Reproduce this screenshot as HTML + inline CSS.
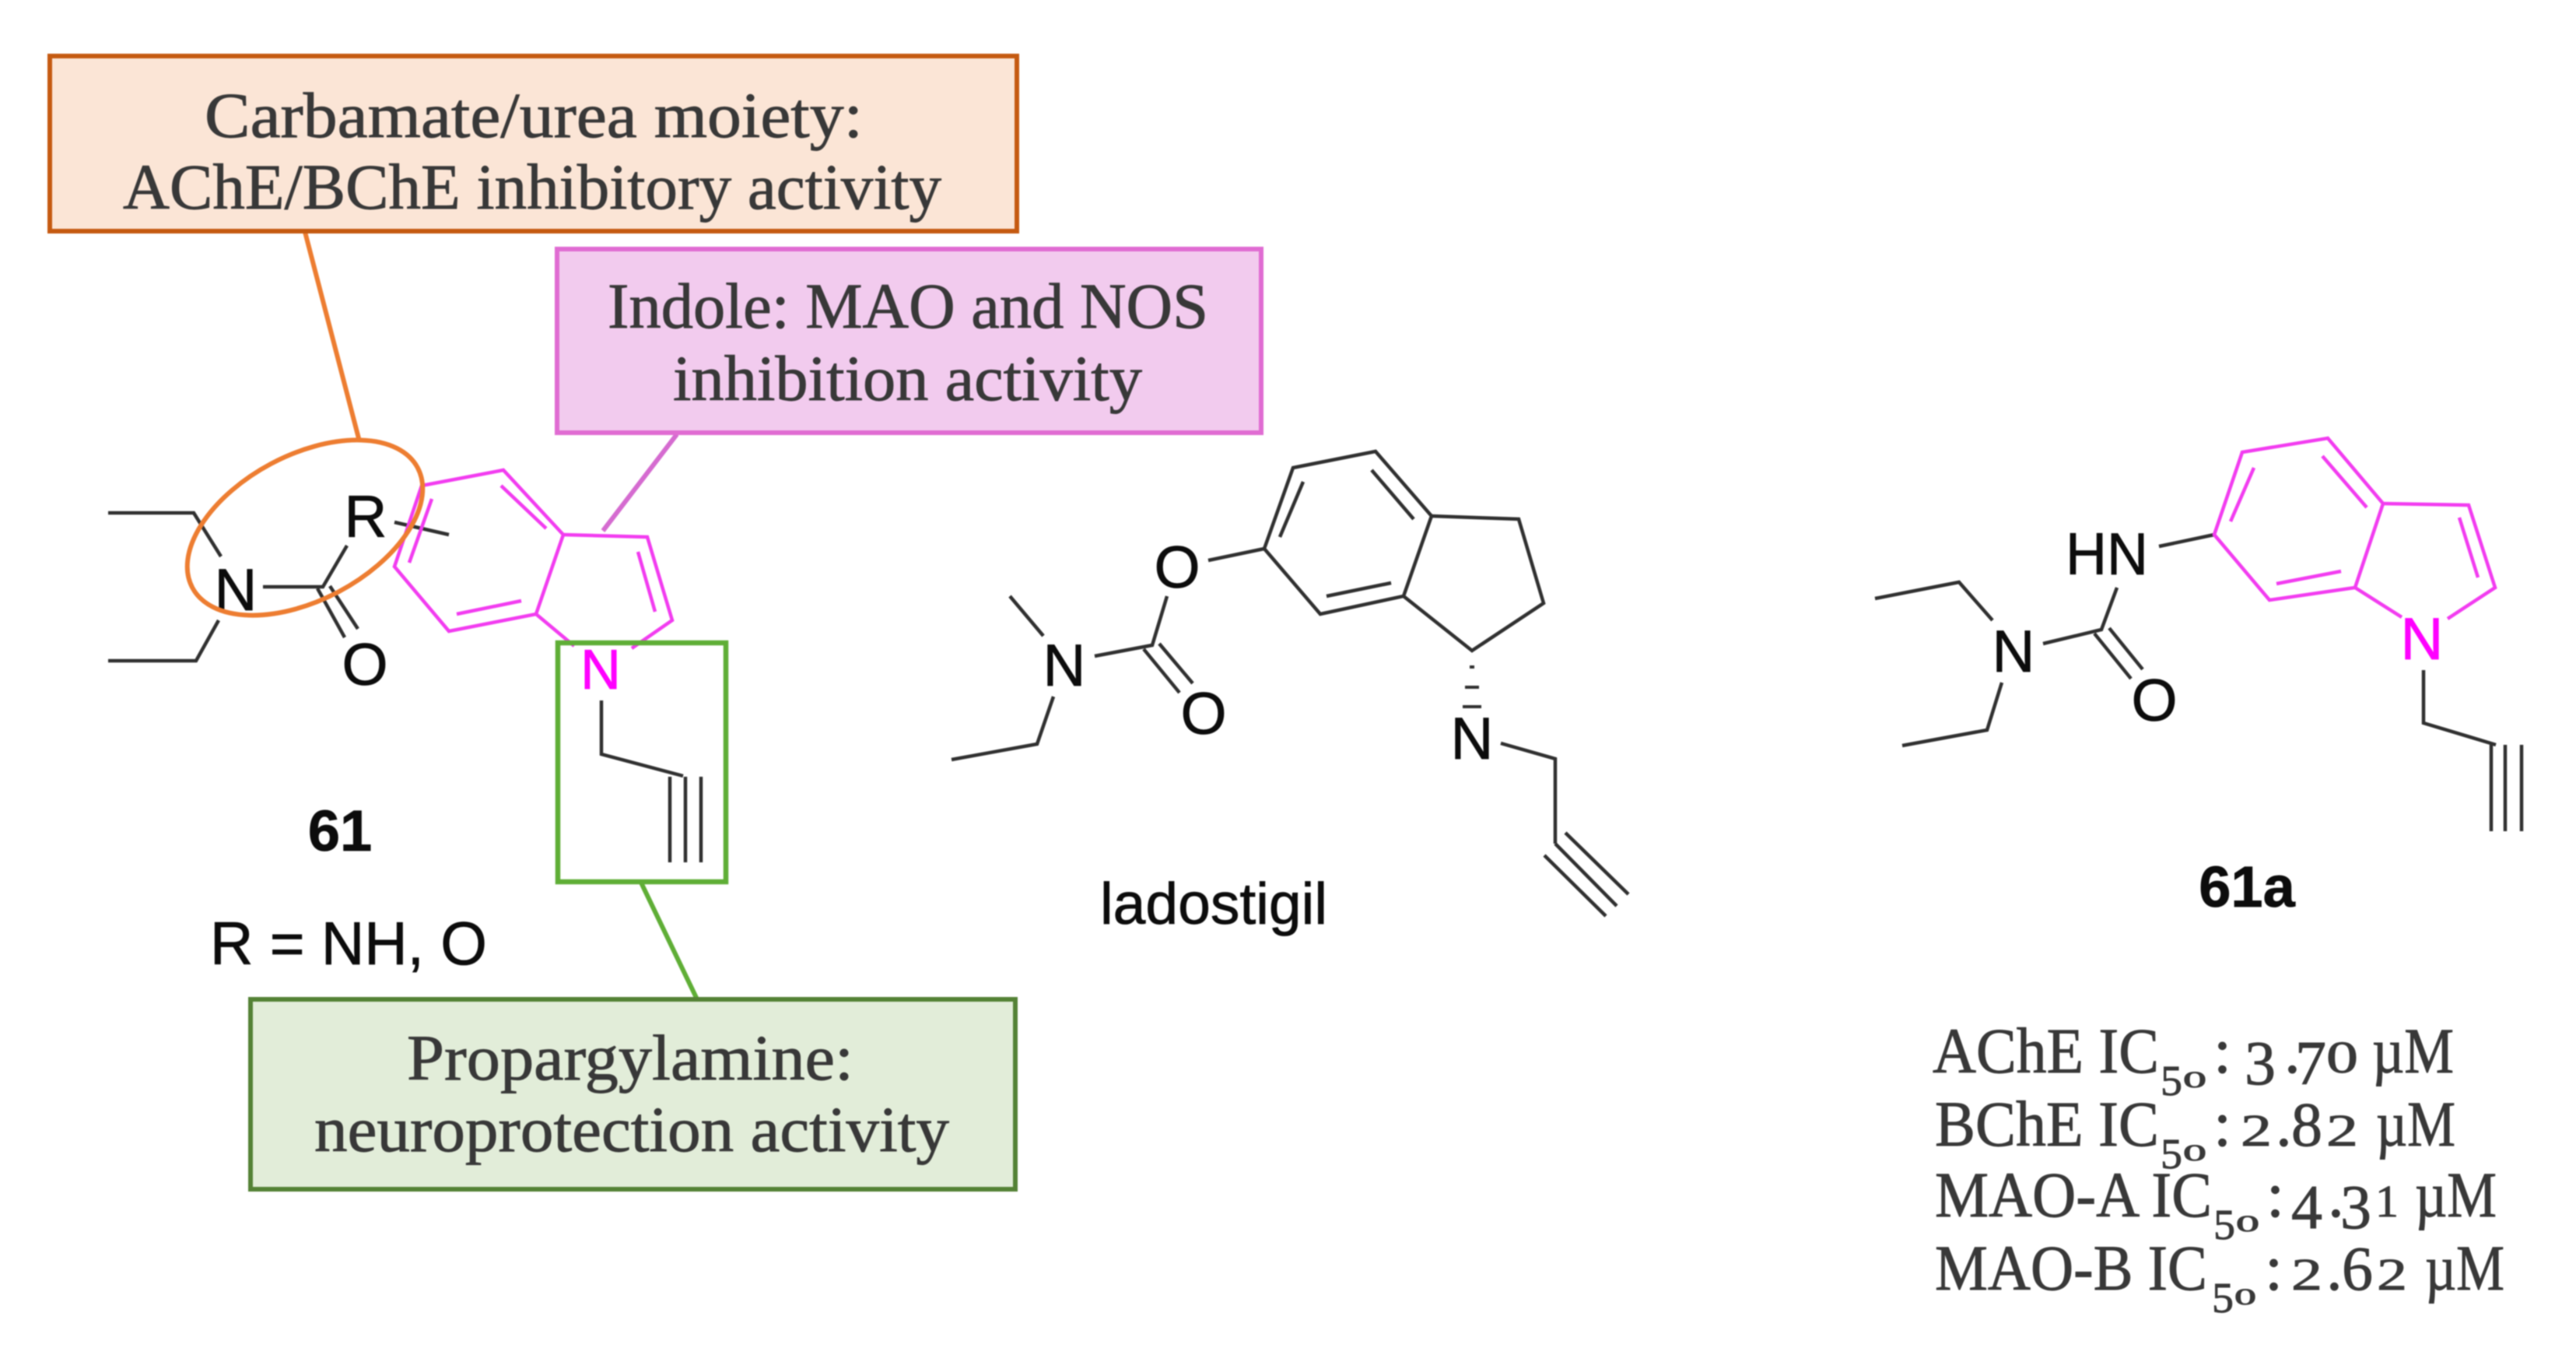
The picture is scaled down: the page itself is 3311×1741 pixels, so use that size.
<!DOCTYPE html>
<html><head><meta charset="utf-8"><style>
html,body{margin:0;padding:0;background:#fff;width:3311px;height:1741px;overflow:hidden}
svg{display:block;filter:blur(0.9px)}
.s{font-family:"Liberation Serif",serif;fill:#383838;stroke:#383838;stroke-width:0.9px;font-size:83px}
.a{font-family:"Liberation Sans",sans-serif;fill:#0c0c0c;stroke:#0c0c0c;stroke-width:0.8px;font-size:76px;text-anchor:middle}
.b{stroke:#303030;stroke-width:4.5;fill:none;stroke-linejoin:miter}
.m{stroke:#F23CF0;stroke-width:4.5;fill:none}
</style></head><body>
<svg width="3311" height="1741" viewBox="0 0 3311 1741" xmlns="http://www.w3.org/2000/svg">
<rect width="3311" height="1741" fill="#fff"/>

<!-- connectors -->
<path d="M392 298L462 567" stroke="#ED7D31" stroke-width="6" fill="none"/>
<path d="M870 558L775 682" stroke="#D56BD0" stroke-width="6" fill="none"/>
<path d="M824 1134L896 1284" stroke="#5FAE36" stroke-width="6" fill="none"/>

<!-- boxes -->
<rect x="64" y="72" width="1243" height="225" fill="#FBE5D6" stroke="#C55A11" stroke-width="6"/>
<rect x="716" y="320" width="905" height="236" fill="#F2CBEE" stroke="#E06CD2" stroke-width="6"/>
<rect x="322" y="1284" width="983" height="244" fill="#E2EDD9" stroke="#548235" stroke-width="6"/>

<!-- box text -->
<text class="s" x="263" y="176" textLength="846" lengthAdjust="spacingAndGlyphs">Carbamate/urea moiety:</text>
<text class="s" x="158" y="268" textLength="1052" lengthAdjust="spacingAndGlyphs">AChE/BChE inhibitory activity</text>
<text class="s" x="781" y="421" textLength="772" lengthAdjust="spacingAndGlyphs">Indole: MAO and NOS</text>
<text class="s" x="865" y="514" textLength="603" lengthAdjust="spacingAndGlyphs">inhibition activity</text>
<text class="s" x="523" y="1387" textLength="574" lengthAdjust="spacingAndGlyphs">Propargylamine:</text>
<text class="s" x="404" y="1479" textLength="816" lengthAdjust="spacingAndGlyphs">neuroprotection activity</text>

<!-- compound 61 -->
<g class="b">
<path d="M139 659H249L284 715"/>
<path d="M139 849H252L281 797"/>
<path d="M338 754H415L446 701"/>
<path d="M408 756L443 819M424 753L460 808"/>
<path d="M507 671L577 687"/>
<path d="M773 900V969L878 997"/>
<path d="M861 998V1108M881 998V1108M901 998V1108"/>
</g>
<g class="m">
<path d="M738 830L689 789L577 811L507 728L542 624L647 604L724 687L689 789"/>
<path d="M724 687L832 690L864 797L812 833"/>
<path d="M644 624L702 679M555 641L526 723M587 789L670 772M820 709L842 786"/>
</g>
<text class="a" x="303" y="784">N</text>
<text class="a" x="470" y="690">R</text>
<text class="a" x="469" y="880">O</text>
<text class="a" x="772" y="885" style="fill:#FF00FF;stroke:#FF00FF;font-size:72px">N</text>
<ellipse cx="392" cy="678" rx="164" ry="93" transform="rotate(-28 392 678)" fill="none" stroke="#ED7D31" stroke-width="6"/>
<rect x="717" y="826" width="216" height="307" fill="none" stroke="#5FAE36" stroke-width="6.5"/>
<text class="a" x="437" y="1093" style="font-weight:bold;font-size:74px">61</text>
<text class="a" x="448" y="1239" style="font-size:78px" textLength="356" lengthAdjust="spacingAndGlyphs">R = NH, O</text>

<!-- ladostigil -->
<g class="b">
<path d="M1625 705L1662 601L1768 580L1840 663L1804 766L1697 789Z"/>
<path d="M1675 619L1645 690M1763 604L1817 667M1705 766L1788 749"/>
<path d="M1840 663L1952 667L1984 775L1892 836L1804 766"/>
<path d="M1553 720L1625 705"/>
<path d="M1500 766L1481 829L1407 843"/>
<path d="M1298 766L1341 817"/>
<path d="M1354 895L1333 956L1223 976"/>
<path d="M1470 834L1516 890M1490 827L1533 878"/>
<path d="M1889 857H1895M1883 883H1901M1880 908H1904" stroke-width="4"/>
<path d="M1929 955L1999 975V1084"/>
<path d="M1999 1084L2078 1164M2012 1070L2093 1149M1985 1099L2064 1177"/>
</g>
<text class="a" x="1513" y="755">O</text>
<text class="a" x="1368" y="881">N</text>
<text class="a" x="1547" y="943">O</text>
<text class="a" x="1892" y="975">N</text>
<text class="a" x="1560" y="1187" style="font-size:75px" textLength="292" lengthAdjust="spacingAndGlyphs">ladostigil</text>

<!-- 61a -->
<g class="b">
<path d="M2775 702L2846 687"/>
<path d="M2721 755L2701 809L2626 827"/>
<path d="M2561 797L2518 748L2410 769"/>
<path d="M2573 877L2554 938L2445 958"/>
<path d="M2692 814L2739 872M2711 807L2754 860"/>
<path d="M3115 861V929L3208 957"/>
<path d="M3202 957V1068M3220 957V1068M3241 957V1068"/>
</g>
<g class="m">
<path d="M2846 687L2882 581L2992 563L3063 647L3027 755L2917 771Z"/>
<path d="M2897 601L2867 670M2985 586L3042 652M2926 750L3009 734"/>
<path d="M3063 647L3173 649L3207 755L3146 795M3027 755L3087 793M3161 665L3185 742"/>
</g>
<text class="a" x="2708" y="738" textLength="106" lengthAdjust="spacingAndGlyphs">HN</text>
<text class="a" x="2588" y="863">N</text>
<text class="a" x="2769" y="926">O</text>
<text class="a" x="3113" y="847" style="fill:#FF00FF;stroke:#FF00FF">N</text>
<text class="a" x="2888" y="1165" style="font-weight:bold;font-size:74px">61a</text>

<!-- activity values -->
<g class="s">
<text x="2484" y="1378" textLength="291" lengthAdjust="spacingAndGlyphs">AChE IC</text>
<text x="2777" y="1407" font-size="55" textLength="28" lengthAdjust="spacingAndGlyphs">5</text><text x="2806" y="1397" font-size="30" textLength="30" lengthAdjust="spacingAndGlyphs">0</text>
<text x="2845" y="1378">:</text>
<text x="2885" y="1393" font-size="80">3</text><text x="2936" y="1378">.</text><text x="2950" y="1393" font-size="80">7</text><text x="2990" y="1378" font-size="58" textLength="41" lengthAdjust="spacingAndGlyphs">0</text>
<text x="3049" y="1378" textLength="105" lengthAdjust="spacingAndGlyphs">µM</text>

<text x="2487" y="1472" textLength="288" lengthAdjust="spacingAndGlyphs">BChE IC</text>
<text x="2777" y="1501" font-size="55" textLength="28" lengthAdjust="spacingAndGlyphs">5</text><text x="2806" y="1491" font-size="30" textLength="30" lengthAdjust="spacingAndGlyphs">0</text>
<text x="2845" y="1472">:</text>
<text x="2880" y="1472" font-size="58" textLength="40" lengthAdjust="spacingAndGlyphs">2</text><text x="2925" y="1472">.</text><text x="2945" y="1472" font-size="80">8</text><text x="2990" y="1472" font-size="58" textLength="41" lengthAdjust="spacingAndGlyphs">2</text>
<text x="3054" y="1472" textLength="102" lengthAdjust="spacingAndGlyphs">µM</text>

<text x="2487" y="1563" textLength="356" lengthAdjust="spacingAndGlyphs">MAO-A IC</text>
<text x="2845" y="1592" font-size="55" textLength="28" lengthAdjust="spacingAndGlyphs">5</text><text x="2874" y="1582" font-size="30" textLength="30" lengthAdjust="spacingAndGlyphs">0</text>
<text x="2913" y="1563">:</text>
<text x="2945" y="1578" font-size="80">4</text><text x="2992" y="1563">.</text><text x="3008" y="1578" font-size="80">3</text><text x="3053" y="1563" font-size="58" textLength="30" lengthAdjust="spacingAndGlyphs">1</text>
<text x="3104" y="1563" textLength="105" lengthAdjust="spacingAndGlyphs">µM</text>

<text x="2487" y="1657" textLength="350" lengthAdjust="spacingAndGlyphs">MAO-B IC</text>
<text x="2843" y="1686" font-size="55" textLength="28" lengthAdjust="spacingAndGlyphs">5</text><text x="2872" y="1676" font-size="30" textLength="28" lengthAdjust="spacingAndGlyphs">0</text>
<text x="2911" y="1657">:</text>
<text x="2945" y="1657" font-size="58" textLength="40" lengthAdjust="spacingAndGlyphs">2</text><text x="2990" y="1657">.</text><text x="3010" y="1657" font-size="80">6</text><text x="3055" y="1657" font-size="58" textLength="39" lengthAdjust="spacingAndGlyphs">2</text>
<text x="3117" y="1657" textLength="102" lengthAdjust="spacingAndGlyphs">µM</text>
</g>
</svg>
</body></html>
